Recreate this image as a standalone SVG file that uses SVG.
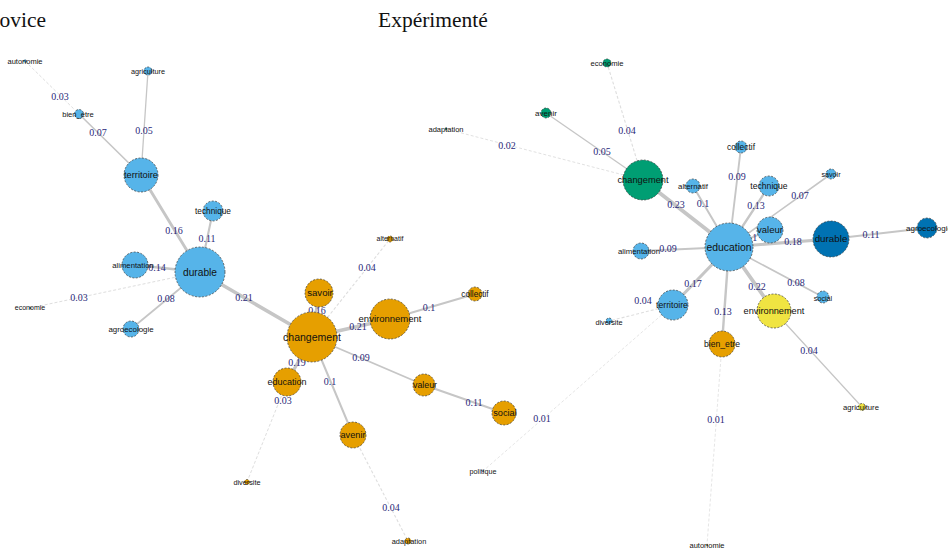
<svg xmlns="http://www.w3.org/2000/svg" width="948" height="550" viewBox="0 0 948 550">
<style>
.title{font-family:"Liberation Serif","Times New Roman",serif;font-size:21.5px;fill:#111}
.e{stroke:#c6c6c6;fill:none;stroke-linecap:round}
.ef{stroke:#dedede;fill:none;stroke-dasharray:3 2}
.el{font-family:"Liberation Serif","Times New Roman",serif;font-size:10px;fill:#2a2a7a;text-anchor:middle}
.n{stroke:#3a3a3a;stroke-width:0.7;stroke-dasharray:2 1.5}
.lb{fill:#56B4E9}.or{fill:#E69F00}.gr{fill:#009E73}.db{fill:#0072B2}.ye{fill:#F0E442}
.t{font-family:"Liberation Sans",Arial,sans-serif;fill:#111;text-anchor:middle}
</style>
<rect width="948" height="550" fill="#ffffff"/>
<text class="title" x="-16" y="27">Novice</text>
<text class="title" x="378" y="27">Expérimenté</text>
<g id="connectors">
<!-- Novice -->
<line class="ef" x1="25" y1="61" x2="79" y2="114" stroke-width="1"/>
<line class="e" x1="79" y1="114" x2="141" y2="175" stroke-width="1.6"/>
<line class="e" x1="148" y1="71" x2="141" y2="175" stroke-width="1.3"/>
<line class="e" x1="141" y1="175" x2="200" y2="272" stroke-width="2.9"/>
<line class="e" x1="213" y1="211" x2="200" y2="272" stroke-width="2.1"/>
<line class="e" x1="135" y1="265" x2="200" y2="272" stroke-width="2.5"/>
<line class="ef" x1="30" y1="308" x2="200" y2="272" stroke-width="1"/>
<line class="e" x1="131" y1="329" x2="200" y2="272" stroke-width="1.7"/>
<line class="e" x1="200" y1="272" x2="312" y2="337" stroke-width="3.6"/>
<line class="e" x1="312" y1="337" x2="319" y2="293" stroke-width="2.9"/>
<line class="ef" x1="312" y1="337" x2="390" y2="239" stroke-width="1.1"/>
<line class="e" x1="312" y1="337" x2="390" y2="319" stroke-width="3.6"/>
<line class="e" x1="390" y1="319" x2="475" y2="294" stroke-width="2"/>
<line class="e" x1="312" y1="337" x2="287" y2="382" stroke-width="3.3"/>
<line class="ef" x1="287" y1="382" x2="247" y2="482" stroke-width="1"/>
<line class="e" x1="312" y1="337" x2="353" y2="435" stroke-width="2"/>
<line class="ef" x1="353" y1="435" x2="408" y2="541" stroke-width="1.1"/>
<line class="e" x1="312" y1="337" x2="424" y2="385" stroke-width="1.9"/>
<line class="e" x1="424" y1="385" x2="504" y2="413" stroke-width="2.1"/>
<!-- Expérimenté -->
<line class="ef" x1="643" y1="180" x2="607" y2="63" stroke-width="1.1"/>
<line class="e" x1="643" y1="180" x2="546" y2="113" stroke-width="1.3"/>
<line class="ef" x1="643" y1="180" x2="446" y2="129" stroke-width="0.9"/>
<line class="e" x1="643" y1="180" x2="729" y2="247" stroke-width="3.8"/>
<line class="e" x1="729" y1="247" x2="741" y2="147" stroke-width="1.9"/>
<line class="e" x1="729" y1="247" x2="693" y2="186" stroke-width="2"/>
<line class="e" x1="729" y1="247" x2="769" y2="186" stroke-width="2.4"/>
<line class="e" x1="729" y1="247" x2="831" y2="174" stroke-width="1.6"/>
<line class="e" x1="729" y1="247" x2="770" y2="230" stroke-width="2"/>
<line class="e" x1="729" y1="247" x2="831" y2="239" stroke-width="3.1"/>
<line class="e" x1="831" y1="239" x2="927" y2="228" stroke-width="2.1"/>
<line class="e" x1="729" y1="247" x2="641" y2="251" stroke-width="1.9"/>
<line class="e" x1="729" y1="247" x2="673" y2="305" stroke-width="3"/>
<line class="ef" x1="673" y1="305" x2="609" y2="321" stroke-width="1.1"/>
<line class="ef" x1="673" y1="305" x2="483" y2="471" stroke-width="0.8"/>
<line class="e" x1="729" y1="247" x2="722" y2="344" stroke-width="2.4"/>
<line class="ef" x1="722" y1="344" x2="707" y2="545" stroke-width="0.8"/>
<line class="e" x1="729" y1="247" x2="774" y2="311" stroke-width="3.7"/>
<line class="e" x1="774" y1="311" x2="862" y2="407" stroke-width="1.2"/>
<line class="e" x1="729" y1="247" x2="823" y2="297" stroke-width="1.7"/>
</g>
<g id="edge-labels">
<text class="el" x="60" y="100">0.03</text>
<text class="el" x="98" y="136">0.07</text>
<text class="el" x="144" y="134">0.05</text>
<text class="el" x="174" y="234">0.16</text>
<text class="el" x="207" y="242">0.11</text>
<text class="el" x="157" y="271">0.14</text>
<text class="el" x="79" y="301">0.03</text>
<text class="el" x="166" y="302">0.08</text>
<text class="el" x="244" y="301">0.21</text>
<text class="el" x="317" y="314">0.16</text>
<text class="el" x="367" y="271">0.04</text>
<text class="el" x="358" y="330">0.21</text>
<text class="el" x="429" y="311">0.1</text>
<text class="el" x="297" y="366">0.19</text>
<text class="el" x="283" y="404">0.03</text>
<text class="el" x="330" y="385">0.1</text>
<text class="el" x="391" y="511">0.04</text>
<text class="el" x="361" y="361">0.09</text>
<text class="el" x="474" y="406">0.11</text>
<text class="el" x="627" y="134">0.04</text>
<text class="el" x="602" y="155">0.05</text>
<text class="el" x="507" y="149">0.02</text>
<text class="el" x="676" y="208">0.23</text>
<text class="el" x="737" y="180">0.09</text>
<text class="el" x="703" y="207">0.1</text>
<text class="el" x="756" y="209">0.13</text>
<text class="el" x="800" y="199">0.07</text>
<text class="el" x="751" y="241">0.1</text>
<text class="el" x="793" y="245">0.18</text>
<text class="el" x="871" y="238">0.11</text>
<text class="el" x="668" y="252">0.09</text>
<text class="el" x="693" y="287">0.17</text>
<text class="el" x="643" y="304">0.04</text>
<text class="el" x="542" y="422">0.01</text>
<text class="el" x="723" y="315">0.13</text>
<text class="el" x="716" y="423">0.01</text>
<text class="el" x="757" y="290">0.22</text>
<text class="el" x="809" y="354">0.04</text>
<text class="el" x="796" y="286">0.08</text>
</g>
<!-- Novice nodes -->
<g id="n-autonomie"><circle class="n lb" cx="25" cy="61" r="1.5"/><text class="t" x="25" y="61" dy="0.35em" font-size="7.5">autonomie</text></g>
<g id="n-agriculture"><circle class="n lb" cx="148" cy="71" r="4"/><text class="t" x="148" y="71" dy="0.35em" font-size="7.3">agriculture</text></g>
<g id="n-bien_etre"><circle class="n lb" cx="79" cy="114" r="4.5"/><text class="t" x="78" y="114" dy="0.35em" font-size="7.6">bien_etre</text></g>
<g id="n-territoire"><circle class="n lb" cx="141" cy="175" r="17"/><text class="t" x="141" y="175" dy="0.35em" font-size="9.3">territoire</text></g>
<g id="n-technique"><circle class="n lb" cx="213" cy="211" r="10"/><text class="t" x="213" y="211" dy="0.35em" font-size="8.3">technique</text></g>
<g id="n-durable"><circle class="n lb" cx="200" cy="272" r="25"/><text class="t" x="200" y="272" dy="0.35em" font-size="10.2">durable</text></g>
<g id="n-alimentation"><circle class="n lb" cx="135" cy="265" r="13"/><text class="t" x="133" y="265" dy="0.35em" font-size="7.7">alimentation</text></g>
<g id="n-economie"><circle class="n lb" cx="30" cy="308" r="1"/><text class="t" x="30" y="308" dy="0.35em" font-size="7">economie</text></g>
<g id="n-agroecologie"><circle class="n lb" cx="131" cy="329" r="8"/><text class="t" x="131" y="329" dy="0.35em" font-size="7.9">agroecologie</text></g>
<g id="n-changement"><circle class="n or" cx="312" cy="337" r="25"/><text class="t" x="312" y="337" dy="0.35em" font-size="10.5">changement</text></g>
<g id="n-savoir"><circle class="n or" cx="319" cy="293" r="14"/><text class="t" x="320" y="293" dy="0.35em" font-size="9.6">savoir</text></g>
<g id="n-alternatif"><circle class="n or" cx="390" cy="239" r="3"/><text class="t" x="390" y="239" dy="0.35em" font-size="7">alternatif</text></g>
<g id="n-environnement"><circle class="n or" cx="390" cy="319" r="20"/><text class="t" x="390" y="319" dy="0.35em" font-size="9.5">environnement</text></g>
<g id="n-collectif"><circle class="n or" cx="475" cy="294" r="7"/><text class="t" x="475" y="294" dy="0.35em" font-size="8.2">collectif</text></g>
<g id="n-education"><circle class="n or" cx="287" cy="382" r="14"/><text class="t" x="287" y="382" dy="0.35em" font-size="9">education</text></g>
<g id="n-valeur"><circle class="n or" cx="424" cy="385" r="11"/><text class="t" x="425" y="385" dy="0.35em" font-size="8.8">valeur</text></g>
<g id="n-social"><circle class="n or" cx="504" cy="413" r="12"/><text class="t" x="505" y="413" dy="0.35em" font-size="9.2">social</text></g>
<g id="n-avenir"><circle class="n or" cx="353" cy="435" r="13"/><text class="t" x="353" y="435" dy="0.35em" font-size="9.2">avenir</text></g>
<g id="n-diversite"><circle class="n or" cx="247" cy="482" r="2.5"/><text class="t" x="247" y="482" dy="0.35em" font-size="7.3">diversite</text></g>
<g id="n-adaptation"><circle class="n or" cx="408" cy="541" r="3"/><text class="t" x="409" y="541" dy="0.35em" font-size="7.4">adaptation</text></g>
<!-- Expérimenté nodes -->
<g id="x-economie"><circle class="n gr" cx="607" cy="63" r="4"/><text class="t" x="607" y="63" dy="0.35em" font-size="7.6">economie</text></g>
<g id="x-avenir"><circle class="n gr" cx="546" cy="113" r="5"/><text class="t" x="546" y="113" dy="0.35em" font-size="8">avenir</text></g>
<g id="x-adaptation"><circle class="n gr" cx="446" cy="129" r="1"/><text class="t" x="446" y="129" dy="0.35em" font-size="7.5">adaptation</text></g>
<g id="x-changement"><circle class="n gr" cx="643" cy="180" r="20"/><text class="t" x="643" y="180" dy="0.35em" font-size="9.3">changement</text></g>
<g id="x-collectif"><circle class="n lb" cx="741" cy="147" r="6"/><text class="t" x="741" y="147" dy="0.35em" font-size="8.4">collectif</text></g>
<g id="x-alternatif"><circle class="n lb" cx="693" cy="186" r="7"/><text class="t" x="693" y="186" dy="0.35em" font-size="7.8">alternatif</text></g>
<g id="x-technique"><circle class="n lb" cx="769" cy="186" r="10"/><text class="t" x="769" y="186" dy="0.35em" font-size="8.6">technique</text></g>
<g id="x-savoir"><circle class="n lb" cx="831" cy="174" r="5"/><text class="t" x="831" y="174" dy="0.35em" font-size="7.2">savoir</text></g>
<g id="x-education"><circle class="n lb" cx="729" cy="247" r="24"/><text class="t" x="729" y="247" dy="0.35em" font-size="10.4">education</text></g>
<g id="x-valeur"><circle class="n lb" cx="770" cy="230" r="13"/><text class="t" x="770" y="230" dy="0.35em" font-size="9.5">valeur</text></g>
<g id="x-durable"><circle class="n db" cx="831" cy="239" r="18"/><text class="t" x="831" y="239" dy="0.35em" font-size="9.8">durable</text></g>
<g id="x-agroecologie"><circle class="n db" cx="927" cy="228" r="10"/><text class="t" x="929" y="228" dy="0.35em" font-size="8">agroecologie</text></g>
<g id="x-alimentation"><circle class="n lb" cx="641" cy="251" r="8"/><text class="t" x="639" y="251" dy="0.35em" font-size="7.8">alimentation</text></g>
<g id="x-territoire"><circle class="n lb" cx="673" cy="305" r="15"/><text class="t" x="672" y="305" dy="0.35em" font-size="8.7">territoire</text></g>
<g id="x-diversite"><circle class="n lb" cx="609" cy="321" r="3"/><text class="t" x="609" y="322" dy="0.35em" font-size="7.3">diversite</text></g>
<g id="x-politique"><circle class="n lb" cx="483" cy="471" r="0.8"/><text class="t" x="483" y="471" dy="0.35em" font-size="7.2">politique</text></g>
<g id="x-social"><circle class="n lb" cx="823" cy="297" r="6"/><text class="t" x="823" y="298" dy="0.35em" font-size="7.2">social</text></g>
<g id="x-environnement"><circle class="n ye" cx="774" cy="311" r="17"/><text class="t" x="774" y="311" dy="0.35em" font-size="9.2">environnement</text></g>
<g id="x-agriculture"><circle class="n ye" cx="862" cy="407" r="3.5"/><text class="t" x="861" y="407" dy="0.35em" font-size="7.7">agriculture</text></g>
<g id="x-bien_etre"><circle class="n or" cx="722" cy="344" r="13"/><text class="t" x="722" y="344" dy="0.35em" font-size="8.6">bien_etre</text></g>
<g id="x-autonomie"><circle class="n or" cx="707" cy="545" r="0.8"/><text class="t" x="707" y="545" dy="0.35em" font-size="7.5">autonomie</text></g>
</svg>
